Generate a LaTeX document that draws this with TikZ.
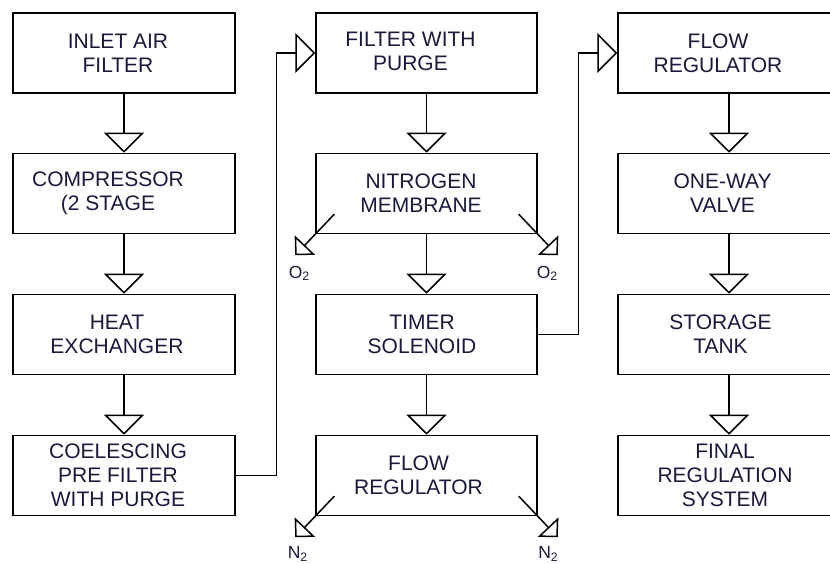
\documentclass[tikz,border=0pt]{standalone}
\usepackage{fontspec}
\setmainfont{Liberation Sans}
\usetikzlibrary{arrows.meta}
\definecolor{navy}{RGB}{25,25,60}
\tikzset{
  box/.style={draw, line width=1.5pt, minimum width=222pt, minimum height=80pt, inner sep=0pt},
  lbl/.style={text=navy, align=center, font=\fontsize{21}{24}\selectfont, inner sep=0pt},
  flow/.style={line width=1.5pt, -{Triangle[open,length=20pt,width=40pt]}},
  diag/.style={line width=1.5pt, -{Triangle[open,length=14pt,width=28pt]}},
  gas/.style={text=navy, font=\fontsize{17.5}{19}\selectfont, anchor=base, inner sep=0pt},
}
\begin{document}
\begin{tikzpicture}[x=1pt,y=1pt]
\useasboundingbox (0,0) rectangle (830,564);
\clip (0,0) rectangle (830,564);
\fill[white] (0,0) rectangle (830,564);
% column 1
\node[box, label={[lbl,xshift=-6pt]center:{INLET AIR\\FILTER}}] (c11) at (124,511) {};
\node[box, label={[lbl,xshift=-16pt]center:{COMPRESSOR\\(2 STAGE}}] (c12) at (124,370.5) {};
\node[box, label={[lbl,xshift=-7pt]center:{HEAT\\EXCHANGER}}] (c13) at (124,229.5) {};
\node[box, label={[lbl,xshift=-6pt]center:{COELESCING\\PRE FILTER\\WITH PURGE}}] (c14) at (124,88.5) {};
% column 2
\node[box, minimum width=221pt, label={[lbl,xshift=-16pt,yshift=1.5pt]center:{FILTER WITH\\PURGE}}] (c21) at (426.5,511) {};
\node[box, minimum width=221pt, label={[lbl,xshift=-5.5pt]center:{NITROGEN\\MEMBRANE}}] (c22) at (426.5,370.5) {};
\node[box, minimum width=221pt, label={[lbl,xshift=-4.5pt]center:{TIMER\\SOLENOID}}] (c23) at (426.5,229.5) {};
\node[box, minimum width=221pt, label={[lbl,xshift=-8pt]center:{FLOW\\REGULATOR}}] (c24) at (426.5,88.5) {};
% column 3
\node[box, label={[lbl,xshift=-11pt]center:{FLOW\\REGULATOR}}] (c31) at (729,511) {};
\node[box, label={[lbl,xshift=-6.5pt]center:{ONE-WAY\\VALVE}}] (c32) at (729,370.5) {};
\node[box, label={[lbl,xshift=-8.5pt]center:{STORAGE\\TANK}}] (c33) at (729,229.5) {};
\node[box, label={[lbl,xshift=-4pt]center:{FINAL\\REGULATION\\SYSTEM}}] (c34) at (729,88.5) {};
% vertical flows
\draw[flow] (c11.south) -- (c12.north);
\draw[flow] (c12.south) -- (c13.north);
\draw[flow] (c13.south) -- (c14.north);
\draw[flow] (c21.south) -- (c22.north);
\draw[flow] (c22.south) -- (c23.north);
\draw[flow] (c23.south) -- (c24.north);
\draw[flow] (c31.south) -- (c32.north);
\draw[flow] (c32.south) -- (c33.north);
\draw[flow] (c33.south) -- (c34.north);
% cross-column flows
\draw[flow] (c14.east) -- ++(40.5,0) |- (c21.west);
\draw[flow] (c23.east) -- ++(40.5,0) |- (c31.west);
% O2 outlets
\coordinate (o2ls) at ([shift={(19,20)}]c22.south west);
\coordinate (o2lt) at ([shift={(-20,-21)}]c22.south west);
\coordinate (o2rs) at ([shift={(-19,20)}]c22.south east);
\coordinate (o2rt) at ([shift={(20,-21)}]c22.south east);
\draw[diag] (o2ls) -- (o2lt);
\draw[diag] (o2rs) -- (o2rt);
\node[gas] (o2l) at ([shift={(-16,-44)}]c22.south west) {O\textsubscript{2}};
\node[gas] (o2r) at ([shift={(9.5,-44)}]c22.south east) {O\textsubscript{2}};
% N2 outlets
\coordinate (n2ls) at ([shift={(19,20)}]c24.south west);
\coordinate (n2lt) at ([shift={(-20,-21)}]c24.south west);
\coordinate (n2rs) at ([shift={(-19,20)}]c24.south east);
\coordinate (n2rt) at ([shift={(20,-21)}]c24.south east);
\draw[diag] (n2ls) -- (n2lt);
\draw[diag] (n2rs) -- (n2rt);
\node[gas] (n2l) at ([shift={(-17.5,-42.5)}]c24.south west) {N\textsubscript{2}};
\node[gas] (n2r) at ([shift={(10.5,-42.5)}]c24.south east) {N\textsubscript{2}};
\end{tikzpicture}
\end{document}
